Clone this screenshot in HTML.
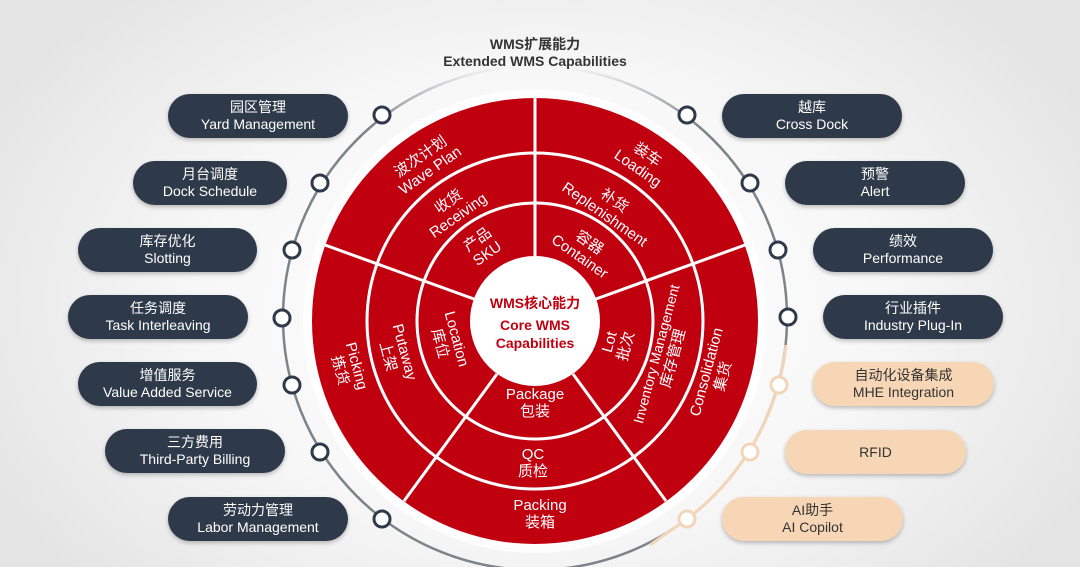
<!DOCTYPE html>
<html><head><meta charset="utf-8"><style>
html,body{margin:0;padding:0;width:1080px;height:567px;overflow:hidden;}
body{background:radial-gradient(ellipse 620px 420px at 540px 300px,#ffffff 0%,#f7f7f7 55%,#e4e4e4 100%);font-family:"Liberation Sans","Noto Sans CJK SC",sans-serif;}
.pill{position:absolute;height:44px;border-radius:22px;background:#2e3a4a;color:#fff;text-align:center;font-size:14px;line-height:17px;display:flex;flex-direction:column;justify-content:center;box-shadow:0 2px 4px rgba(0,0,0,.25);}
.pe{background:#f7d6b6;color:#333;}
</style></head><body>
<svg width="1080" height="567" style="position:absolute;left:0;top:0" font-family="Liberation Sans, Noto Sans CJK SC, sans-serif">
<defs>
<linearGradient id="fade" gradientUnits="userSpaceOnUse" x1="0" y1="66" x2="0" y2="125">
<stop offset="0" stop-color="#7d838a" stop-opacity="0"/>
<stop offset="1" stop-color="#7d838a" stop-opacity="1"/>
</linearGradient>
</defs>
<text x="535" y="49" text-anchor="middle" font-size="14" font-weight="bold" fill="#333">WMS扩展能力</text>
<text x="535" y="66" text-anchor="middle" font-size="14" font-weight="bold" fill="#333">Extended WMS Capabilities</text>
<circle cx="535" cy="318" r="252" fill="none" stroke="url(#fade)" stroke-width="2.5"/>
<path d="M 786 345 A 252 252 0 0 1 687 519 L 650 545" fill="none" stroke="#f3d6b8" stroke-width="3"/>
<circle cx="535" cy="321" r="232" fill="#fff" opacity="0.8"/>
<circle cx="535" cy="321" r="223" fill="#c0000f"/>
<g fill="none" stroke="#fff" stroke-width="3">
<circle cx="535" cy="321" r="168"/>
<circle cx="535" cy="321" r="118"/>
<line x1="535" y1="256" x2="535" y2="98"/>
<line x1="474" y1="299" x2="325" y2="245"/>
<line x1="596" y1="299" x2="745" y2="245"/>
<line x1="497" y1="374" x2="404" y2="501"/>
<line x1="573" y1="374" x2="666" y2="501"/>
</g>
<circle cx="535" cy="321" r="65" fill="#fff"/>
<g fill="#c0000f" font-size="14" font-weight="bold" text-anchor="middle">
<text x="535" y="308">WMS核心能力</text>
<text x="535" y="330">Core WMS</text>
<text x="535" y="348">Capabilities</text>
</g>
<g fill="#fff" font-size="15" text-anchor="middle">
<g transform="translate(425,163) rotate(-35)"><text y="-3">波次计划</text><text y="14">Wave Plan</text></g>
<g transform="translate(453,208) rotate(-35)"><text y="-3">收货</text><text y="14">Receiving</text></g>
<g transform="translate(482,246) rotate(-35)"><text y="-3">产品</text><text y="14">SKU</text></g>
<g transform="translate(643,161) rotate(35)"><text y="-3">装车</text><text y="14">Loading</text></g>
<g transform="translate(610,207) rotate(35)"><text y="-3">补货</text><text y="14">Replenishment</text></g>
<g transform="translate(585,249) rotate(35)"><text y="-3">容器</text><text y="14">Container</text></g>
<g transform="translate(349,368) rotate(75)"><text y="-3">Picking</text><text y="14">拣货</text></g>
<g transform="translate(397,354) rotate(75)"><text y="-3">Putaway</text><text y="14">上架</text></g>
<g transform="translate(449,341) rotate(75)"><text y="-3">Location</text><text y="14">库位</text></g>
<g transform="translate(617,344) rotate(-75)"><text y="-3">Lot</text><text y="14">批次</text></g>
<g transform="translate(664,356) rotate(-75)"><text y="-3" font-size="14">Inventory Management</text><text y="14">库存管理</text></g>
<g transform="translate(714,374) rotate(-75)"><text y="-3">Consolidation</text><text y="14">集货</text></g>
<text x="535" y="399">Package</text><text x="535" y="416">包装</text>
<text x="533" y="459">QC</text><text x="533" y="476">质检</text>
<text x="540" y="510">Packing</text><text x="540" y="527">装箱</text>
</g>
<g fill="#fff" stroke="#2e3a4a" stroke-width="3">
<circle cx="382" cy="115" r="8"/><circle cx="320" cy="183" r="8"/><circle cx="292" cy="250" r="8"/>
<circle cx="282" cy="318" r="8"/><circle cx="292" cy="385" r="8"/><circle cx="320" cy="452" r="8"/><circle cx="382" cy="519" r="8"/>
<circle cx="687" cy="115" r="8"/><circle cx="750" cy="183" r="8"/><circle cx="778" cy="250" r="8"/><circle cx="788" cy="317" r="8"/>
</g>
<g fill="#fff" stroke="#f3d6b8" stroke-width="3">
<circle cx="779" cy="385" r="8"/><circle cx="750" cy="452" r="8"/><circle cx="687" cy="519" r="8"/>
</g>
</svg>
<div class="pill" style="left:168px;top:94px;width:180px">园区管理<span>Yard Management</span></div>
<div class="pill" style="left:133px;top:161px;width:154px">月台调度<span>Dock Schedule</span></div>
<div class="pill" style="left:78px;top:228px;width:179px">库存优化<span>Slotting</span></div>
<div class="pill" style="left:68px;top:295px;width:180px">任务调度<span>Task Interleaving</span></div>
<div class="pill" style="left:78px;top:362px;width:179px">增值服务<span>Value Added Service</span></div>
<div class="pill" style="left:105px;top:429px;width:180px">三方费用<span>Third-Party Billing</span></div>
<div class="pill" style="left:168px;top:497px;width:180px">劳动力管理<span>Labor Management</span></div>
<div class="pill" style="left:722px;top:94px;width:180px">越库<span>Cross Dock</span></div>
<div class="pill" style="left:785px;top:161px;width:180px">预警<span>Alert</span></div>
<div class="pill" style="left:813px;top:228px;width:180px">绩效<span>Performance</span></div>
<div class="pill" style="left:823px;top:295px;width:180px">行业插件<span>Industry Plug-In</span></div>
<div class="pill pe" style="left:813px;top:362px;width:181px">自动化设备集成<span>MHE Integration</span></div>
<div class="pill pe" style="left:785px;top:430px;width:181px">RFID</div>
<div class="pill pe" style="left:722px;top:497px;width:181px">AI助手<span>AI Copilot</span></div>
</body></html>
